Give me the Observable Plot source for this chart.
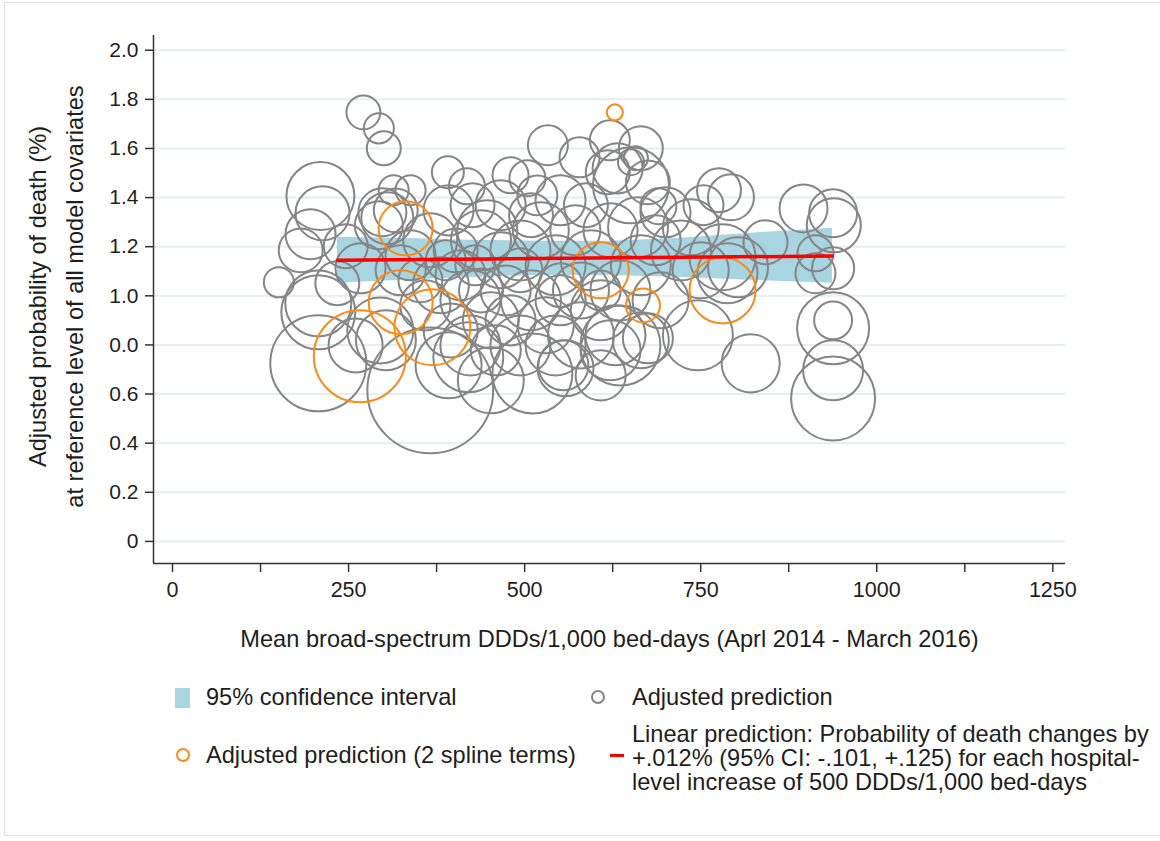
<!DOCTYPE html>
<html>
<head>
<meta charset="utf-8">
<script src="https://cdn.jsdelivr.net/npm/d3@7"></script>
<script src="https://cdn.jsdelivr.net/npm/@observablehq/plot@0.6"></script>
<style>
  html, body { margin: 0; padding: 0; background: #fff; }
  body { font-family: "Liberation Sans", Arial, sans-serif; color: #1e1e1e; }
  #wrap { position: relative; width: 1160px; height: 841px; overflow: hidden; }
  #border { position: absolute; left: 4px; top: 2px; width: 1170px; height: 834px; border: 1px solid #e2e2e2; box-sizing: border-box; }
  #chart { position: absolute; left: 0; top: 0; }
  .lg { position: absolute; font-size: 23.6px; line-height: 23px; white-space: nowrap; }
  .sym { position: absolute; box-sizing: border-box; }
</style>
</head>
<body>
<div id="wrap">
  <div id="border"></div>
  <div id="chart"></div>
  <div class="sym" style="left:175px;top:688px;width:15px;height:20px;background:#a8d5e2;"></div>
  <div class="lg" style="left:206px;top:686px;">95% confidence interval</div>
  <div class="sym" style="left:591px;top:690px;width:14px;height:14px;border:2px solid #858585;border-radius:50%;"></div>
  <div class="lg" style="left:632px;top:686px;">Adjusted prediction</div>
  <div class="sym" style="left:176px;top:748px;width:14px;height:14px;border:2px solid #fb8a16;border-radius:50%;"></div>
  <div class="lg" style="left:206px;top:744px;">Adjusted prediction (2 spline terms)</div>
  <div class="sym" style="left:610px;top:754px;width:14px;height:3px;background:#ff0000;"></div>
  <div class="lg" style="left:632px;top:722px;line-height:24px;">Linear prediction: Probability of death changes by<br>+.012% (95% CI: -.101, +.125) for each hospital-<br>level increase of 500 DDDs/1,000 bed-days</div>
</div>
<script>
// ---- Data ----
const yTicks = [0, 0.2, 0.4, 0.6, 0.8, 1.0, 1.2, 1.4, 1.6, 1.8, 2.0];
const yTickLabels = ["0", "0.2", "0.4", "0.6", "0.0", "1.0", "1.2", "1.4", "1.6", "1.8", "2.0"];
const xTicks = [0, 125, 250, 375, 500, 625, 750, 875, 1000, 1125, 1250];
const xTickLabels = ["0", "", "250", "", "500", "", "750", "", "1000", "", "1250"];

// Adjusted prediction per hospital (x = DDDs/1,000 bed-days, y = probability %, w = bubble weight)
const grayX = [271,293,300,210,213,196,246,151,207,207,207,234,260,295,303,366,314,338,391,418,
  298,305,293,317,338,366,392,426,447,480,504,518,533,578,621,665,651,658,618,632,
  675,651,661,690,776,793,754,736,803,788,842,746,821,896,938,939,913,913,938,938,
  938,938,938,781,438,466,409,423,452,473,494,523,544,509,530,551,572,594,580,608,
  622,636,665,686,693,395,423,459,494,480,544,580,629,665,452,511,558,622,608,381,
  359,402,466,509,551,587,494,430,388,324,352,267,722,750,392,420,555,675,636,182,
  438,551,608,700];
const grayY = [1.747,1.682,1.601,1.406,1.336,1.251,1.202,1.055,0.969,0.933,0.725,1.051,0.798,0.859,0.819,0.615,1.430,1.430,1.503,1.446,
  1.340,1.316,1.287,1.348,1.165,1.226,1.348,1.369,1.267,1.491,1.479,1.409,1.613,1.564,1.633,1.601,1.544,1.560,1.503,1.519,
  1.462,1.450,1.279,1.365,1.430,1.401,1.369,1.279,1.116,1.092,1.218,0.839,0.725,1.356,1.336,1.287,1.173,1.092,1.112,0.868,
  0.900,0.697,0.582,1.157,1.226,1.145,1.084,0.982,0.900,1.022,1.185,1.267,1.124,0.982,0.880,0.982,1.267,1.145,1.022,0.941,
  1.267,1.022,1.124,1.226,0.982,0.859,0.798,0.778,0.798,0.900,0.798,0.839,0.839,0.819,0.656,0.684,0.705,0.778,0.676,1.043,
  0.961,1.185,1.369,1.328,1.389,1.369,1.104,1.124,1.145,1.104,1.063,1.112,1.185,1.104,0.717,0.750,0.717,0.827,0.798,1.185,
  1.022,1.043,1.022,1.340];
const grayW = [8.0,6.3,8.0,32.1,20.3,17.4,13.4,6.3,30.3,38.0,64.0,13.4,20.3,30.3,25.0,110.0,6.3,6.3,7.1,9.0,
  16.0,18.8,16.0,13.4,17.4,20.3,17.4,13.4,25.0,9.0,9.0,11.1,11.1,11.1,11.1,13.4,4.7,4.0,13.4,17.4,
  13.4,40.1,25.0,9.0,13.4,14.7,11.1,21.8,25.0,25.0,13.4,34.0,23.4,16.0,16.0,20.3,9.0,11.1,12.3,36.0,
  10.0,25.0,49.0,30.3,25.0,21.8,17.4,25.0,21.8,17.4,25.0,21.8,25.0,25.0,21.8,17.4,17.4,25.0,21.8,25.0,
  20.3,25.0,25.0,17.4,21.8,20.3,25.0,17.4,25.0,17.4,25.0,30.3,25.0,21.8,30.3,44.4,21.8,25.0,17.4,21.8,
  17.4,13.4,17.4,13.4,17.4,13.4,13.4,11.1,11.1,17.4,13.4,17.4,25.0,21.8,30.3,34.0,17.4,17.4,44.4,13.4,
  13.4,13.4,11.1,17.4];

// Adjusted prediction (2 spline terms)
const orangeX = [628, 331, 608, 668, 781, 324, 369, 266];
const orangeY = [1.747, 1.275, 1.104, 0.961, 1.022, 0.974, 0.872, 0.754];
const orangeW = [1.8, 20.3, 21.8, 8.0, 30.3, 28.4, 40.1, 58.8];

// 95% confidence interval
const ciX = [234, 324, 423, 523, 622, 722, 821, 937];
const ciLow = [1.051, 1.063, 1.075, 1.083, 1.083, 1.075, 1.063, 1.051];
const ciHigh = [1.238, 1.234, 1.226, 1.222, 1.222, 1.234, 1.255, 1.275];

// Linear prediction
const lineX = [234, 937];
const lineY = [1.145, 1.162];

const yLabel1 = "Adjusted probability of death (%)";
const yLabel2 = "at reference level of all model covariates";
const xLabel = "Mean broad-spectrum DDDs/1,000 bed-days (Aprl 2014 - March 2016)";

// ---- Build ----
const gray = grayX.map((x, i) => ({x, y: grayY[i], w: grayW[i]}));
const orange = orangeX.map((x, i) => ({x, y: orangeY[i], w: orangeW[i]}));
const ci = ciX.map((x, i) => ({x, lo: ciLow[i], hi: ciHigh[i]}));
const line = lineX.map((x, i) => ({x, y: lineY[i]}));

const X0 = -27, X1 = 1268, Y0 = -0.09, Y1 = 2.06;
const ink = "#1e1e1e";

const chart = Plot.plot({
  width: 1160,
  height: 670,
  marginLeft: 153,
  marginRight: 95,
  marginTop: 35,
  marginBottom: 107,
  style: {fontFamily: "'Liberation Sans', Arial, sans-serif", fontSize: "21px", color: ink, background: "transparent", overflow: "visible"},
  x: {domain: [X0, X1]},
  y: {domain: [Y0, Y1]},
  r: {type: "sqrt", domain: [0, 100], range: [0, 60]},
  marks: [
    Plot.ruleY(yTicks, {x1: X0, x2: X1, stroke: "#e5eef1", strokeWidth: 2}),
    Plot.areaY(ci, {x: "x", y1: "lo", y2: "hi", fill: "#a8d5e2", curve: "linear"}),
    Plot.dot(gray, {x: "x", y: "y", r: "w", stroke: "#858585", strokeWidth: 2, fill: "none"}),
    Plot.dot(orange, {x: "x", y: "y", r: "w", stroke: "#fb8a16", strokeWidth: 2, fill: "none"}),
    Plot.line(line, {x: "x", y: "y", stroke: "#ff0000", strokeWidth: 3.5}),
    Plot.ruleX([X0], {y1: Y0, y2: Y1, stroke: "#333", strokeWidth: 1.5}),
    Plot.ruleY([Y0], {x1: X0, x2: X1, stroke: "#333", strokeWidth: 1.5}),
    Plot.axisY(yTicks, {tickFormat: d => yTickLabels[yTicks.indexOf(d)], tickSize: 8, tickPadding: 7, stroke: "#333", strokeWidth: 1.5, fill: ink, fontSize: 21, label: null}),
    Plot.axisX(xTicks, {tickFormat: d => xTickLabels[xTicks.indexOf(d)], tickSize: 9, tickPadding: 9, stroke: "#333", strokeWidth: 1.5, fill: ink, fontSize: 21.5, label: null}),
    Plot.text([yLabel1], {frameAnchor: "left", textAnchor: "middle", dx: -115, dy: -3, rotate: -90, fontSize: 23.6, fill: ink}),
    Plot.text([yLabel2], {frameAnchor: "left", textAnchor: "middle", dx: -78, dy: -3, rotate: -90, fontSize: 23.6, fill: ink}),
    Plot.text([xLabel], {frameAnchor: "bottom", dy: 83, fontSize: 23.6, fill: ink})
  ]
});
document.getElementById("chart").appendChild(chart);
</script>
</body>
</html>
